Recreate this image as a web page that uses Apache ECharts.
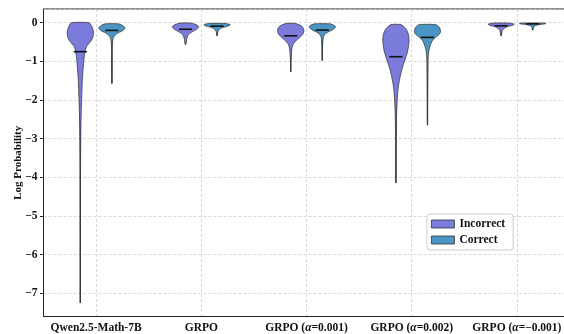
<!DOCTYPE html>
<html>
<head>
<meta charset="utf-8">
<script src="https://cdn.jsdelivr.net/npm/echarts@6/dist/echarts.min.js"></script>
<style>html,body{margin:0;padding:0;background:#fff}#c{width:564px;height:334px}</style>
</head>
<body>
<div id="c"></div>
<script>
// ---------- DATA ----------
const categories = ['Qwen2.5-Math-7B', 'GRPO', 'GRPO (α=0.001)', 'GRPO (α=0.002)', 'GRPO (α=−0.001)'];
const seriesNames = ['Incorrect', 'Correct'];

const incorrectMedian = [-0.75, -0.17, -0.34, -0.88, -0.08];
const incorrectMax = [0.0, -0.01, -0.02, -0.05, -0.01];
const incorrectMin = [-7.25, -0.56, -1.27, -4.14, -0.34];
// density profiles: [value, relative density]
const incorrectDensity = [
  [[0,0.66],[-0.08,0.85],[-0.18,0.97],[-0.3,1.0],[-0.4,0.93],[-0.5,0.75],[-0.6,0.5],[-0.7,0.38],[-0.85,0.31],[-1.0,0.26],[-1.25,0.2],[-1.5,0.15],[-1.9,0.11],[-2.3,0.07],[-2.8,0.04],[-3.5,0.02],[-4.5,0.008],[-6,0.003],[-7.25,0.001]],
  [[-0.01,0.4],[-0.05,0.8],[-0.1,1.0],[-0.16,0.9],[-0.22,0.6],[-0.28,0.3],[-0.35,0.15],[-0.45,0.07],[-0.56,0.03]],
  [[-0.02,0.35],[-0.08,0.8],[-0.15,0.97],[-0.22,1.0],[-0.3,0.92],[-0.38,0.7],[-0.45,0.45],[-0.55,0.2],[-0.65,0.1],[-0.8,0.05],[-1.0,0.02],[-1.27,0.005]],
  [[-0.05,0.38],[-0.15,0.75],[-0.3,0.95],[-0.45,1.0],[-0.6,0.96],[-0.75,0.88],[-0.9,0.75],[-1.05,0.6],[-1.2,0.46],[-1.4,0.32],[-1.6,0.21],[-1.8,0.14],[-2.0,0.1],[-2.4,0.05],[-3.0,0.025],[-3.5,0.012],[-4.14,0.005]],
  [[-0.01,0.6],[-0.04,1.0],[-0.07,0.85],[-0.1,0.5],[-0.14,0.25],[-0.2,0.1],[-0.27,0.05],[-0.34,0.02]]
];

const correctMedian = [-0.2, -0.09, -0.19, -0.38, -0.03];
const correctMax = [-0.03, -0.02, -0.03, -0.05, -0.01];
const correctMin = [-1.57, -0.34, -0.98, -2.65, -0.19];
const correctDensity = [
  [[-0.03,0.5],[-0.08,0.85],[-0.14,1.0],[-0.2,0.85],[-0.26,0.5],[-0.32,0.25],[-0.4,0.1],[-0.5,0.05],[-0.7,0.02],[-1.0,0.01],[-1.57,0.003]],
  [[-0.02,0.6],[-0.05,1.0],[-0.08,0.9],[-0.12,0.5],[-0.16,0.2],[-0.22,0.08],[-0.3,0.03],[-0.34,0.01]],
  [[-0.03,0.6],[-0.08,0.95],[-0.12,1.0],[-0.18,0.8],[-0.24,0.45],[-0.3,0.2],[-0.38,0.08],[-0.5,0.04],[-0.7,0.02],[-0.98,0.008]],
  [[-0.05,0.62],[-0.12,0.9],[-0.22,1.0],[-0.3,0.9],[-0.38,0.6],[-0.45,0.4],[-0.55,0.25],[-0.7,0.12],[-0.85,0.06],[-1.0,0.04],[-1.5,0.02],[-2.0,0.01],[-2.65,0.004]],
  [[-0.01,0.9],[-0.025,1.0],[-0.04,0.7],[-0.06,0.35],[-0.09,0.12],[-0.13,0.05],[-0.19,0.02]]
];

// ---------- STYLE ----------
const colors = ['#7B7BDC', '#4A95C4'];
const offsets = [-0.15, 0.15];
const FONT = '"Liberation Serif", "DejaVu Serif", serif';

const groups = [
  {density: incorrectDensity, median: incorrectMedian, min: incorrectMin, max: incorrectMax},
  {density: correctDensity, median: correctMedian, min: correctMin, max: correctMax}
];

function makeRender(si) {
  return function (params, api) {
    const ci = params.dataIndex;
    const g = groups[si];
    const band = api.size([1, 0])[0];
    const cx = api.coord([ci, 0])[0] + offsets[si] * band;
    const maxHalf = 0.125 * band;
    const prof = g.density[ci];
    const right = prof.map(p => [cx + p[1] * maxHalf, api.coord([ci, p[0]])[1]]);
    const left = prof.slice().reverse().map(p => [cx - p[1] * maxHalf, api.coord([ci, p[0]])[1]]);
    const yMin = api.coord([ci, g.min[ci]])[1];
    const yMax = api.coord([ci, g.max[ci]])[1];
    const yMed = api.coord([ci, g.median[ci]])[1];
    const mh = 0.0625 * band;
    return {
      type: 'group',
      children: [
        {type: 'line', shape: {x1: cx, y1: yMax, x2: cx, y2: yMin}, style: {stroke: '#3a3a3a', lineWidth: 1.3}},
        {type: 'polygon', shape: {points: right.concat(left), smooth: 0.2},
          style: {fill: colors[si], stroke: '#3a3a3a', lineWidth: 0.8}},
        {type: 'line', shape: {x1: cx - mh, y1: yMed, x2: cx + mh, y2: yMed}, style: {stroke: '#111', lineWidth: 1.6}}
      ]
    };
  };
}

const chart = echarts.init(document.getElementById('c'), null, {renderer: 'canvas'});
chart.setOption({
  animation: false,
  backgroundColor: '#fff',
  grid: {left: 43.5, top: 9, width: 526, height: 307.5, containLabel: false, outerBoundsMode: 'none',
    show: true, borderColor: '#222', borderWidth: 1, backgroundColor: 'transparent'},
  legend: {
    left: 427, top: 214, orient: 'vertical',
    data: seriesNames.map((n, i) => ({name: n, itemStyle: {color: colors[i], borderColor: '#333', borderWidth: 0.8}})),
    itemWidth: 23, itemHeight: 8, itemGap: 4,
    padding: [4, 8, 4, 4],
    backgroundColor: '#fff', borderColor: '#ccc', borderWidth: 1, borderRadius: 3,
    textStyle: {fontFamily: FONT, fontWeight: 'bold', fontSize: 11.5, color: '#111'},
    icon: 'rect'
  },
  xAxis: {
    type: 'category', data: categories, boundaryGap: true,
    axisLine: {onZero: false, lineStyle: {color: '#222', width: 1}},
    axisTick: {alignWithLabel: true, length: 3.5, lineStyle: {color: '#222'}},
    splitLine: {show: true, alignWithLabel: true, lineStyle: {color: '#cfcfcf', type: [3, 2], width: 0.8}},
    axisLabel: {
      interval: 0, margin: 6, color: '#111', fontFamily: FONT, fontWeight: 'bold', fontSize: 11.5,
      formatter: v => v.replace('α', '{a|α}'),
      rich: {a: {fontFamily: FONT, fontStyle: 'italic', fontWeight: 'bold', fontSize: 11.5, color: '#111'}}
    }
  },
  yAxis: {
    type: 'value', min: -7.6, max: 0.354, splitNumber: 8,
    name: 'Log Probability', nameLocation: 'middle', nameGap: 20, nameMoveOverlap: false,
    nameTextStyle: {fontFamily: FONT, fontWeight: 'bold', fontSize: 11, color: '#111'},
    axisLine: {show: true, onZero: false, lineStyle: {color: '#222', width: 1}},
    axisTick: {show: true, length: 3.5, lineStyle: {color: '#222'}},
    splitLine: {show: true, lineStyle: {color: '#cfcfcf', type: [3, 2], width: 0.8}},
    axisLabel: {
      margin: 6, color: '#111', fontFamily: FONT, fontWeight: 'bold', fontSize: 11.5,
      showMinLabel: false, showMaxLabel: false,
      formatter: v => (v < 0 ? '−' + Math.abs(v) : String(v))
    }
  },
  series: seriesNames.map((n, si) => ({
    name: n, type: 'custom', renderItem: makeRender(si),
    itemStyle: {color: colors[si]},
    data: categories.map((c, i) => [i]),
    encode: {x: 0},
    clip: false
  }))
});
</script>
</body>
</html>
